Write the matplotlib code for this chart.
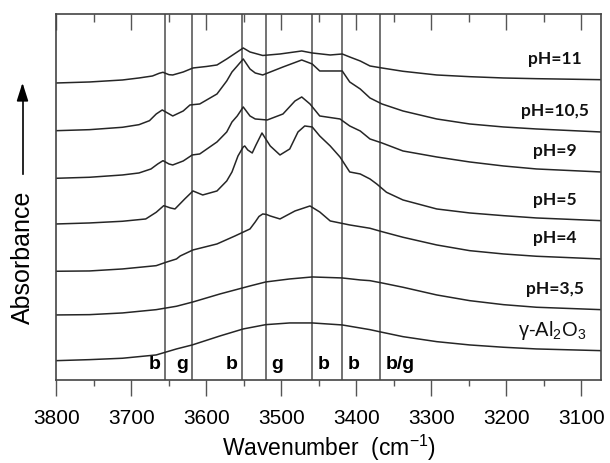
import matplotlib.pyplot as plt
from matplotlib.ticker import MultipleLocator

plt.rcParams['font.family'] = ['Liberation Sans', 'DejaVu Sans']
plt.rcParams['mathtext.fontset'] = 'custom'
plt.rcParams['mathtext.rm'] = 'Liberation Sans'
plt.rcParams['mathtext.it'] = 'Liberation Sans:italic'

# IR spectra, OH stretching region (cm-1 / absorbance, stacked with offsets)
wn_ph11 = [3800, 3756, 3712, 3690, 3672, 3663, 3658, 3650, 3645, 3631, 3618, 3600, 3586,
           3573, 3559, 3551, 3542, 3525, 3502, 3473, 3459, 3435, 3419, 3409, 3395, 3382,
           3366, 3338, 3293, 3249, 3204, 3160, 3074]
abs_ph11 = [2.97, 2.98, 3.00, 3.02, 3.04, 3.067, 3.077, 3.053, 3.05, 3.08, 3.12, 3.135, 3.15,
            3.21, 3.28, 3.32, 3.28, 3.245, 3.26, 3.29, 3.27, 3.25, 3.26, 3.23, 3.19, 3.14,
            3.12, 3.087, 3.05, 3.033, 3.02, 3.013, 3.003]

wn_ph105 = [3800, 3756, 3712, 3690, 3676, 3667, 3659, 3648, 3645, 3631, 3622, 3609, 3586,
            3573, 3566, 3559, 3551, 3542, 3535, 3525, 3498, 3473, 3459, 3449, 3419, 3409,
            3395, 3382, 3366, 3338, 3293, 3249, 3204, 3160, 3074]
abs_ph105 = [2.493, 2.503, 2.527, 2.553, 2.593, 2.66, 2.70, 2.653, 2.64, 2.69, 2.75, 2.76,
             2.86, 2.99, 3.08, 3.14, 3.21, 3.11, 3.07, 3.05, 3.13, 3.20, 3.16, 3.09, 3.09,
             2.98, 2.91, 2.82, 2.76, 2.69, 2.61, 2.56, 2.53, 2.51, 2.48]

wn_ph9 = [3800, 3756, 3712, 3690, 3674, 3665, 3658, 3650, 3645, 3631, 3619, 3609, 3586,
          3573, 3566, 3559, 3551, 3542, 3535, 3519, 3498, 3482, 3473, 3462, 3449, 3422,
          3409, 3395, 3382, 3366, 3338, 3293, 3249, 3204, 3160, 3074]
abs_ph9 = [2.017, 2.027, 2.05, 2.07, 2.11, 2.16, 2.193, 2.16, 2.15, 2.19, 2.25, 2.26, 2.38,
           2.48, 2.58, 2.64, 2.73, 2.64, 2.61, 2.60, 2.66, 2.79, 2.83, 2.76, 2.64, 2.61,
           2.54, 2.49, 2.41, 2.37, 2.29, 2.23, 2.18, 2.14, 2.11, 2.08]

wn_ph5 = [3800, 3756, 3712, 3681, 3667, 3657, 3648, 3642, 3629, 3618, 3605, 3586, 3573,
          3566, 3558, 3551, 3549, 3545, 3539, 3534, 3526, 3521, 3515, 3502, 3489, 3478,
          3469, 3459, 3449, 3435, 3422, 3409, 3395, 3382, 3373, 3360, 3338, 3293, 3249,
          3204, 3160, 3074]
abs_ph5 = [1.56, 1.57, 1.587, 1.61, 1.677, 1.743, 1.72, 1.71, 1.81, 1.89, 1.85, 1.89, 1.99,
           2.08, 2.24, 2.33, 2.34, 2.30, 2.27, 2.35, 2.47, 2.41, 2.34, 2.25, 2.31, 2.48,
           2.54, 2.53, 2.44, 2.34, 2.23, 2.08, 2.06, 2.01, 1.96, 1.877, 1.80, 1.71, 1.67,
           1.643, 1.62, 1.593]

wn_ph4 = [3800, 3756, 3712, 3667, 3654, 3640, 3635, 3618, 3602, 3586, 3562, 3542, 3535,
          3530, 3525, 3520, 3515, 3502, 3482, 3462, 3449, 3435, 3409, 3382, 3366, 3338,
          3293, 3249, 3204, 3160, 3074]
abs_ph4 = [1.087, 1.09, 1.11, 1.143, 1.177, 1.21, 1.24, 1.30, 1.33, 1.36, 1.44, 1.51, 1.58,
           1.635, 1.66, 1.655, 1.64, 1.61, 1.69, 1.74, 1.68, 1.59, 1.55, 1.517, 1.483,
           1.427, 1.35, 1.293, 1.26, 1.237, 1.21]

wn_ph35 = [3800, 3756, 3712, 3667, 3640, 3618, 3582, 3542, 3521, 3489, 3459, 3419, 3395,
           3382, 3366, 3338, 3293, 3249, 3204, 3160, 3074]
abs_ph35 = [0.65, 0.653, 0.67, 0.703, 0.737, 0.78, 0.86, 0.94, 0.98, 1.01, 1.03, 1.02, 1.00,
            0.993, 0.97, 0.927, 0.85, 0.793, 0.753, 0.727, 0.703]

wn_al2o3 = [3800, 3756, 3712, 3667, 3640, 3619, 3582, 3551, 3521, 3489, 3459, 3419, 3382,
            3366, 3338, 3293, 3249, 3204, 3160, 3074]
abs_al2o3 = [0.193, 0.203, 0.217, 0.25, 0.31, 0.35, 0.44, 0.51, 0.553, 0.57, 0.57, 0.55,
             0.503, 0.477, 0.433, 0.383, 0.35, 0.327, 0.31, 0.293]

spectra = [
    ('pH=11', wn_ph11, abs_ph11),
    ('pH=10,5', wn_ph105, abs_ph105),
    ('pH=9', wn_ph9, abs_ph9),
    ('pH=5', wn_ph5, abs_ph5),
    ('pH=4', wn_ph4, abs_ph4),
    ('pH=3,5', wn_ph35, abs_ph35),
    ('γ-Al$_2$O$_3$', wn_al2o3, abs_al2o3),
]

# band assignments (b = bridged, g = geminal)
band_pos = [3655, 3619, 3552, 3521, 3459, 3419, 3368]
band_lbl = ['b', 'g', 'b', 'g', 'b', 'b', 'b/g']
band_side = ['left', 'left', 'left', 'right', 'right', 'right', 'right']

fig = plt.figure(figsize=(6.1, 4.64), dpi=100)
ax = fig.add_axes([0.0926, 0.179, 0.8926, 0.7887])

for x in band_pos:
    ax.axvline(x, color='#5a5a5a', lw=1.2, zorder=1)

for name, wn, a in spectra:
    ax.plot(wn, a, color='#262626', lw=1.1, solid_joinstyle='round', zorder=2)
    if name.startswith('γ'):
        ax.text(3139, a[-1] + 0.21, name, fontsize=14.5, ha='center', va='center',
                color='#111111')
    else:
        ax.text(3135, a[-1] + 0.22, name, fontsize=12.5, fontweight='bold',
                family=['Lato', 'DejaVu Sans'], ha='center', va='center', color='#111111')

for x, lbl, side in zip(band_pos, band_lbl, band_side):
    if side == 'left':
        ax.text(x + 6, 0.16, lbl, ha='right', va='center', fontsize=14, fontweight='bold')
    else:
        ax.text(x - 7, 0.16, lbl, ha='left', va='center', fontsize=14, fontweight='bold')

ax.set_xlim(3800, 3074)
ax.set_ylim(0, 3.66)
ax.set_yticks([])
ax.xaxis.set_major_locator(MultipleLocator(100))
ax.xaxis.set_minor_locator(MultipleLocator(50))
ax.tick_params(axis='x', which='major', direction='out', length=11.5, width=1,
               color='#555555', labelsize=15, pad=9)
ax.tick_params(axis='x', which='minor', direction='out', length=4.5, width=1, color='#555555')

top = ax.secondary_xaxis('top')
top.xaxis.set_major_locator(MultipleLocator(100))
top.xaxis.set_minor_locator(MultipleLocator(50))
top.tick_params(axis='x', which='major', direction='in', length=11.5, width=1,
                color='#555555', labelsize=0, labeltop=False)
top.tick_params(axis='x', which='minor', direction='in', length=5.5, width=1, color='#555555')
top.spines['top'].set_visible(False)

for s in ax.spines.values():
    s.set_color('#444444')
    s.set_linewidth(1.2)

ax.set_xlabel('Wavenumber  (cm$^{-1}$)', fontsize=16.5, labelpad=3)

# y-axis label with an upward arrow
fig.text(22.5 / 610, 1 - 257 / 464, 'Absorbance', rotation=90, fontsize=18,
         ha='center', va='center')
fig.add_artist(plt.Line2D([22.5 / 610, 22.5 / 610], [1 - 175 / 464, 1 - 95 / 464],
                          color='black', lw=1.2))
ax.annotate('', xy=(22.5 / 610, 1 - 81 / 464), xytext=(22.5 / 610, 1 - 100 / 464),
            xycoords='figure fraction', textcoords='figure fraction',
            arrowprops=dict(arrowstyle='-|>,head_length=1.1,head_width=0.35',
                            color='black', lw=1.2))

fig.savefig('out.png', dpi=100)
